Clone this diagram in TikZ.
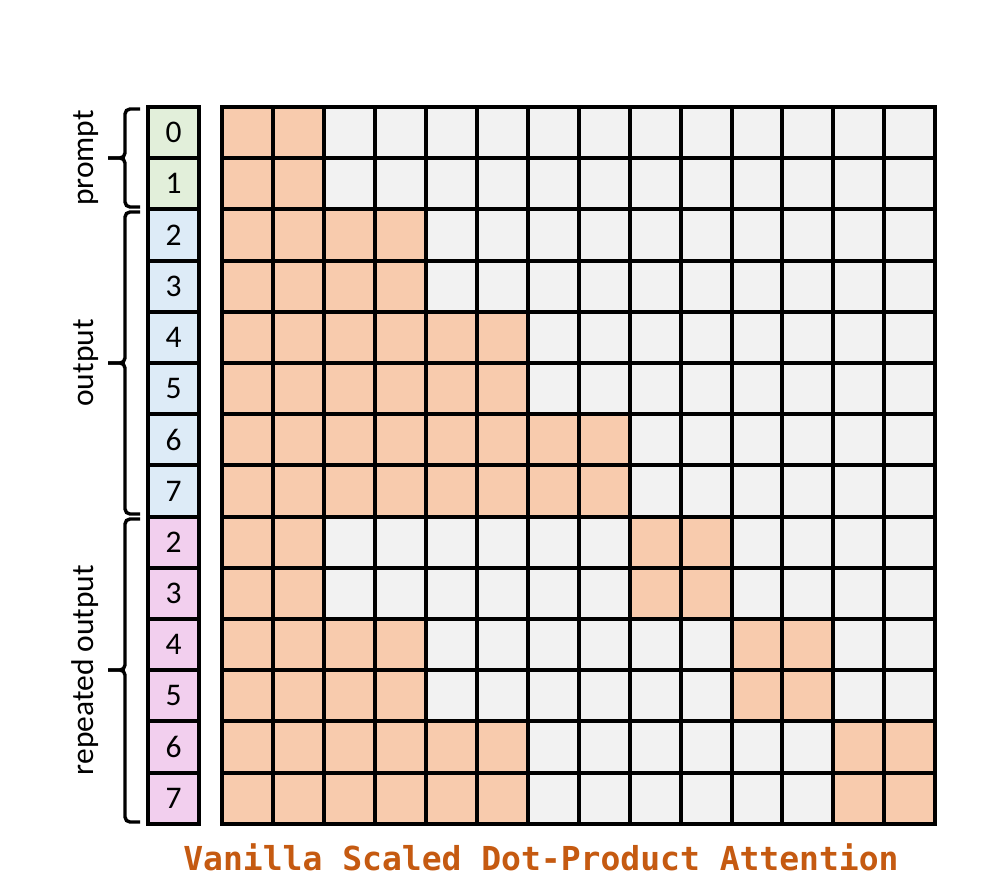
\documentclass[tikz,border=0pt]{standalone}
\usepackage{fontspec}
\setmainfont{Carlito}
\newfontfamily\titlefont{DejaVu Sans Mono}
\definecolor{cellor}{HTML}{F8CBAD}
\definecolor{cellgr}{HTML}{F2F2F2}
\definecolor{tokgreen}{HTML}{E2EFDA}
\definecolor{tokblue}{HTML}{DDEBF7}
\definecolor{tokpink}{HTML}{F2CFEE}
\definecolor{titlecol}{HTML}{C55A11}
\tikzset{
  cellbox/.style={draw=black, line width=4pt, minimum width=50.95pt, minimum height=51.2pt, inner sep=0pt, outer sep=0pt},
  tokbox/.style={draw=black, line width=4pt, minimum width=51pt, minimum height=51.2pt, inner sep=0pt, outer sep=0pt, font=\fontsize{31.5}{34}\selectfont},
  bracket/.style={draw=black, line width=3.4pt, rounded corners=5pt},
  sidelabel/.style={rotate=90, anchor=base, font=\fontsize{31.5}{34}\selectfont},
}
\begin{document}
\begin{tikzpicture}[x=1pt,y=-1pt]
\useasboundingbox (0,0) rectangle (996,894);
\fill[white] (0,0) rectangle (996,894);
% attention grid
\foreach \r in {0,...,13}{
  \foreach \c in {0,...,13}{
    \pgfmathtruncatemacro{\k}{floor(\r/2)}
    \pgfmathtruncatemacro{\kc}{floor(\c/2)}
    \pgfmathtruncatemacro{\on}{ifthenelse(\r<8, \kc<=\k, or(\kc<=\k-4, \kc==\k))}
    \ifnum\on=1 \def\fc{cellor}\else\def\fc{cellgr}\fi
    \node[cellbox, fill=\fc] (g-\r-\c) at ({222+50.95*(\c+0.5)},{107+51.2*(\r+0.5)}) {};
  }
}
% token column
\foreach \r in {0,...,13}{
  \pgfmathtruncatemacro{\v}{ifthenelse(\r<8, \r, \r-6)}
  \ifnum\r<2 \def\tc{tokgreen}\else\ifnum\r<8 \def\tc{tokblue}\else\def\tc{tokpink}\fi\fi
  \node[tokbox, fill=\tc] (t-\r) at (173.5,{107+51.2*(\r+0.5)}) {\v};
}
% brackets
\coordinate (p-top) at (140,109);
\coordinate (p-tip) at (108,158);
\coordinate (p-bot) at (140,207);
\coordinate (o-top) at (140,212);
\coordinate (o-tip) at (108,363);
\coordinate (o-bot) at (140,514);
\coordinate (r-top) at (140,519);
\coordinate (r-tip) at (108,670);
\coordinate (r-bot) at (140,822);
\foreach \b in {p,o,r}{
  \draw[bracket] (\b-top) -- ++(-15,0) |- (\b-tip);
  \draw[bracket] (\b-tip) -- ++(17,0) |- (\b-bot);
}
% labels
\node[sidelabel] (lab-prompt) at (93,158) {prompt};
\node[sidelabel] (lab-output) at (93,363) {output};
\node[sidelabel] (lab-repeated) at (93,670) {repeated output};
% title
\node[anchor=base, text=titlecol, font=\titlefont\bfseries\fontsize{33}{36}\selectfont] (title) at (541,870) {Vanilla Scaled Dot-Product Attention};
\end{tikzpicture}
\end{document}
